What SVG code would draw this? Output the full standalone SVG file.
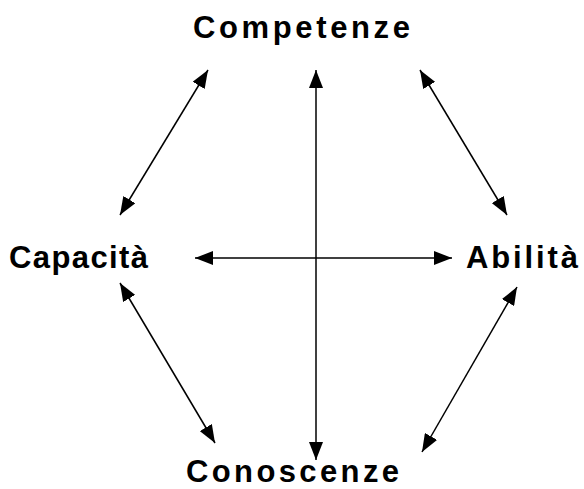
<svg xmlns="http://www.w3.org/2000/svg" width="584" height="489" viewBox="0 0 584 489">
<defs>
<marker id="ah" viewBox="0 0 18 14" refX="18" refY="7" markerWidth="18" markerHeight="14" markerUnits="userSpaceOnUse" orient="auto-start-reverse">
<path d="M0,0 L18,7 L0,14 Z" fill="#000"/>
</marker>
<style>
.lbl{font-family:"Liberation Sans",Arial,sans-serif;font-weight:bold;font-size:31px;fill:#000}
.c{stroke:#000;stroke-width:1.5;fill:none;marker-start:url(#ah);marker-end:url(#ah)}
</style>
</defs>
<rect width="584" height="489" fill="#fff"/>
<g id="connectors">
<line class="c" x1="316" y1="70" x2="316" y2="460"/>
<line class="c" x1="195" y1="258" x2="452" y2="258"/>
<line class="c" x1="208" y1="70" x2="120" y2="215"/>
<line class="c" x1="420" y1="70" x2="507" y2="215"/>
<line class="c" x1="120" y1="283" x2="215" y2="443"/>
<line class="c" x1="517" y1="287" x2="422" y2="452"/>
</g>
<g id="competenze"><text class="lbl" x="193" y="38" textLength="217" lengthAdjust="spacing">Competenze</text></g>
<g id="capacita"><text class="lbl" x="9" y="268" textLength="139" lengthAdjust="spacing">Capacità</text></g>
<g id="abilita"><text class="lbl" x="466" y="268" textLength="112" lengthAdjust="spacing">Abilità</text></g>
<g id="conoscenze"><text class="lbl" x="186" y="482" textLength="213" lengthAdjust="spacing">Conoscenze</text></g>
</svg>
